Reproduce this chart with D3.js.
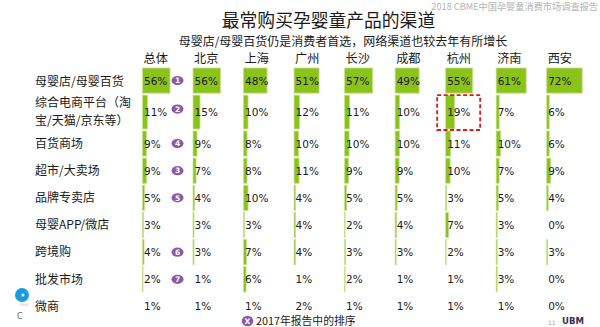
<!DOCTYPE html>
<html><head><meta charset="utf-8">
<script src="https://cdn.jsdelivr.net/npm/d3@7/dist/d3.min.js"></script>
<style>body{margin:0;background:#fff}svg{display:block}</style>
</head><body>
<svg id="c" width="600" height="327"></svg>
<script>
const cities = ["总体","北京","上海","广州","长沙","成都","杭州","济南","西安"];
const channels = ["母婴店/母婴百货","综合电商平台（淘宝/天猫/京东等）","百货商场","超市/大卖场","品牌专卖店","母婴APP/微店","跨境购","批发市场","微商"];
const channelLines = [["母婴店/母婴百货"],["综合电商平台（淘","宝/天猫/京东等）"],["百货商场"],["超市/大卖场"],["品牌专卖店"],["母婴APP/微店"],["跨境购"],["批发市场"],["微商"]];
const vTotal   = [56,11,9,9,5,3,4,2,1];
const vBeijing = [56,15,9,7,4,3,3,1,1];
const vShanghai= [48,10,8,8,10,3,7,6,1];
const vGuangzhou=[51,12,10,11,4,4,4,1,2];
const vChangsha= [57,11,10,9,5,2,3,2,1];
const vChengdu = [49,10,10,9,5,4,3,1,1];
const vHangzhou= [55,19,11,10,3,7,2,1,1];
const vJinan   = [61,7,10,7,5,3,3,3,1];
const vXian    = [72,6,6,9,4,0,3,0,0];
const rank2017 = [1,2,4,3,5,null,6,7,null];
const barRows  = [true,true,true,true,true,true,true,true,false];

const seriesByCity = [vTotal,vBeijing,vShanghai,vGuangzhou,vChangsha,vChengdu,vHangzhou,vJinan,vXian];
const svg = d3.select("#c");
const CJK = "'Noto Sans CJK SC','Noto Sans',sans-serif";
const NUM = "'DejaVu Sans',sans-serif";

// row layout: weights (row 2 taller)
const weights = channels.map((c,i)=> i===1 ? 1.32 : 1);
const cum = [0]; weights.forEach(w=>cum.push(cum[cum.length-1]+w));
const yLin = d3.scaleLinear().domain([0, cum[cum.length-1]]).range([67, 320]);
const rowTop = i => yLin(cum[i]);
const rowBot = i => yLin(cum[i+1]);
const rowMid = i => (rowTop(i)+rowBot(i))/2;

const x = d3.scalePoint().domain(cities).range([142.5, 546.7]);
const w = d3.scaleLinear().domain([1,100]).range([0,49.5]).clamp(true);

// header texts
svg.append("text").attr("x",598).attr("y",10).attr("text-anchor","end")
  .attr("font-family",CJK).attr("font-size",9.2).attr("fill","#b3b3b3")
  .text("2018 CBME中国孕婴童消费市场调查报告");
svg.append("text").attr("x",328.5).attr("y",26.5).attr("text-anchor","middle")
  .attr("font-family",CJK).attr("font-size",17.8).attr("fill","#1a1a1a")
  .text("最常购买孕婴童产品的渠道");
svg.append("text").attr("x",343).attr("y",46).attr("text-anchor","middle")
  .attr("font-family",CJK).attr("font-size",12).attr("fill","#1a1a1a")
  .text("母婴店/母婴百货仍是消费者首选，网络渠道也较去年有所增长");

// column headers
svg.append("g").selectAll("text").data(cities).join("text")
  .attr("x",d=>x(d)+1).attr("y",62.5)
  .attr("font-family",CJK).attr("font-size",12.2).attr("fill","#1a1a1a")
  .text(d=>d);

// row labels
channelLines.forEach((lines,i)=>{
  const t = svg.append("text").attr("font-family",CJK).attr("font-size",12).attr("fill","#1a1a1a");
  const mid = rowMid(i) + (i===0 ? 1.2 : 0);
  const lh = 18;
  lines.forEach((ln,k)=>{
    t.append("tspan").attr("x",35).attr("y", mid + (k-(lines.length-1)/2)*lh + 4.3).text(ln);
  });
});

// bars and values
const cells = [];
seriesByCity.forEach((vals,ci)=>vals.forEach((v,ri)=>cells.push({city:cities[ci],row:ri,v})));
const g = svg.append("g");
g.selectAll("rect.bar").data(cells.filter(d=>barRows[d.row] && w(d.v)>0)).join("rect")
  .attr("class","bar")
  .attr("x",d=>x(d.city)).attr("y",d=>rowTop(d.row)+1)
  .attr("width",d=>w(d.v)).attr("height",d=>rowBot(d.row)-rowTop(d.row)-2)
  .attr("fill","#8cc21c").attr("stroke","#c4e28a").attr("stroke-width",0.8);
g.selectAll("text.val").data(cells).join("text")
  .attr("class","val")
  .attr("x",d=>x(d.city)+1.5).attr("y",d=>rowMid(d.row)+4)
  .attr("font-family",NUM).attr("font-size",10.5).attr("fill","#1a1a1a")
  .text(d=>d.v+"%");

// rank badges
const rk = svg.append("g");
rank2017.forEach((r,i)=>{
  if(r==null) return;
  const cx = 177.5, cy = rowMid(i) - (i===1?3:0);
  rk.append("ellipse").attr("cx",cx).attr("cy",cy).attr("rx",6).attr("ry",4.6).attr("fill","#8b5aa6");
  rk.append("text").attr("x",cx).attr("y",cy+2.8).attr("text-anchor","middle")
    .attr("font-family",NUM).attr("font-size",7.5).attr("font-weight","bold").attr("fill","#fff").text(r);
});

// highlight box
const hx = x("杭州");
svg.append("rect").attr("x",hx-8.5).attr("y",rowTop(1)+1).attr("width",43).attr("height",rowBot(1)-rowTop(1)-1)
  .attr("fill","none").attr("stroke","#e8141c").attr("stroke-width",1.8).attr("stroke-dasharray","4,2.5");

// legend
svg.append("ellipse").attr("cx",247.5).attr("cy",321).attr("rx",5.8).attr("ry",5.3).attr("fill","#8b5aa6");
svg.append("text").attr("x",247.5).attr("y",323.8).attr("text-anchor","middle")
  .attr("font-family",NUM).attr("font-size",7.5).attr("font-weight","bold").attr("fill","#fff").text("X");
svg.append("text").attr("x",256).attr("y",325)
  .attr("font-family",CJK).attr("font-size",10.8).attr("fill","#1a1a1a").text("2017年报告中的排序");

// footer
svg.append("text").attr("x",548).attr("y",325).attr("font-family",NUM).attr("font-size",6).attr("fill","#999").text("11");
svg.append("text").attr("x",562).attr("y",324).attr("font-family",NUM).attr("font-size",8.5).attr("font-weight","bold").attr("fill","#3a2b57").text("UBM");
svg.append("circle").attr("cx",22).attr("cy",295).attr("r",7).attr("fill","#1c9be2");
svg.append("circle").attr("cx",23).attr("cy",295).attr("r",1.5).attr("fill","#fff");
svg.append("text").attr("x",20).attr("y",306).attr("font-family",NUM).attr("font-size",3).attr("fill","#bbb").text("CBME");
svg.append("text").attr("x",17).attr("y",319).attr("font-family",NUM).attr("font-size",8).attr("fill","#666").text("C");
</script>
</body></html>
